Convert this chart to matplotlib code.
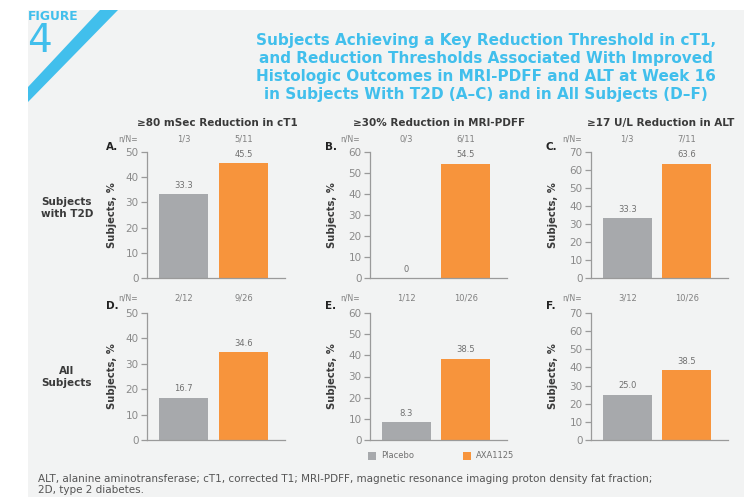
import matplotlib.pyplot as plt
from matplotlib.patches import Polygon, Rectangle
from matplotlib import transforms

W, H = 756, 497

groups = ['Placebo', 'AXA1125']
placebo_pct = [33.3, 0, 33.3, 16.7, 8.3, 25.0]
axa_pct = [45.5, 54.5, 63.6, 34.6, 38.5, 38.5]
placebo_nn = ['1/3', '0/3', '1/3', '2/12', '1/12', '3/12']
axa_nn = ['5/11', '6/11', '7/11', '9/26', '10/26', '10/26']
y_max = [50, 60, 70, 50, 60, 70]
letters = ['A.', 'B.', 'C.', 'D.', 'E.', 'F.']
col_titles = ['\u226580 mSec Reduction in cT1', '\u226530% Reduction in MRI-PDFF',
              '\u226517 U/L Reduction in ALT']
row_titles = ['Subjects\nwith T2D', 'All\nSubjects']

gray = '#a7a9ac'
orange = '#f7943c'
blue = '#41bfec'
bg = '#f2f3f3'
tick_gray = '#8a8a8a'
dark = '#3a3a3a'

plt.rcParams['font.family'] = ['DejaVu Sans']


def fx(x):
    return x / W


def fy(y):
    return 1 - y / H


fig = plt.figure(figsize=(W / 100, H / 100), dpi=100)
fig.patch.set_facecolor('white')

# light panel and the blue stripe, kept behind the axes
fig.patches.append(Rectangle((fx(28), fy(497)), fx(744) - fx(28), fy(10) - fy(497),
                             transform=fig.transFigure, facecolor=bg, edgecolor='none', zorder=-2))
stripe = [(100, 10), (118, 10), (28, 102), (28, 87)]
fig.patches.append(Polygon([(fx(x), fy(y)) for x, y in stripe], closed=True,
                           transform=fig.transFigure, facecolor=blue, edgecolor='none', zorder=-1))

fig.text(fx(28), fy(16), 'FIGURE', color=blue, fontsize=8.8, fontweight='bold', va='center', ha='left')
fig.text(fx(27), fy(41), '4', color=blue, fontsize=28, va='center', ha='left')

title = ('Subjects Achieving a Key Reduction Threshold in cT1,\n'
         'and Reduction Thresholds Associated With Improved\n'
         'Histologic Outcomes in MRI-PDFF and ALT at Week 16\n'
         'in Subjects With T2D (A\u2013C) and in All Subjects (D\u2013F)')
fig.text(fx(486), fy(68), title, color=blue, fontsize=11, fontweight='bold',
         ha='center', va='center', linespacing=1.25)

lefts = [147, 370, 591]
rights = [285, 507, 728]
tops = [152, 313]
bottoms = [278, 440]
nn_y = [139, 298]
letter_y = [147, 306]
letter_x = [112, 331, 551]
nlabel_x = [128, 350, 572]
ylab_x = [112, 332, 553]

for i in range(6):
    r, c = divmod(i, 3)
    ax = fig.add_axes([fx(lefts[c]), fy(bottoms[r]), fx(rights[c]) - fx(lefts[c]),
                       fy(tops[r]) - fy(bottoms[r])])
    ax.set_facecolor('none')
    vals = [placebo_pct[i], axa_pct[i]]
    ax.bar([0, 1], vals, width=0.82, color=[gray, orange], zorder=2)
    ax.set_xlim(-0.61, 1.69)
    ax.set_ylim(0, y_max[i])
    ax.set_yticks(range(0, y_max[i] + 1, 10))
    ax.set_xticks([])
    for s in ['top', 'right']:
        ax.spines[s].set_visible(False)
    for s in ['left', 'bottom']:
        ax.spines[s].set_color('#9a9a9a')
        ax.spines[s].set_linewidth(0.9)
    ax.tick_params(axis='y', colors='#9a9a9a', labelcolor=tick_gray, labelsize=7.5,
                   length=4, width=0.9, pad=2)
    for x, v in zip([0, 1], vals):
        ax.annotate('0' if v == 0 else f'{v:.1f}', (x, v), xytext=(0, 3),
                    textcoords='offset points', ha='center', va='bottom',
                    fontsize=6, color='#707070')
    ax.text(fx(ylab_x[c]), (fy(tops[r]) + fy(bottoms[r])) / 2, 'Subjects, %',
            transform=fig.transFigure, rotation=90, ha='center', va='center',
            fontsize=7.2, fontweight='bold', color=dark)

    tr = transforms.blended_transform_factory(ax.transData, fig.transFigure)
    for x, t in zip([0, 1], [placebo_nn[i], axa_nn[i]]):
        ax.text(x, fy(nn_y[r]), t, transform=tr, ha='center', va='center',
                fontsize=6, color='#808080')
    fig.text(fx(nlabel_x[c]), fy(nn_y[r]), 'n/N=', ha='center', va='center',
             fontsize=5.5, color='#808080')
    fig.text(fx(letter_x[c]), fy(letter_y[r]), letters[i], ha='center', va='center',
             fontsize=7.5, fontweight='bold', color='#222222')

for c in range(3):
    fig.text(fx((lefts[c] + rights[c]) / 2 + 1), fy(123), col_titles[c], ha='center',
             va='center', fontsize=7.5, fontweight='bold', color=dark)

fig.text(fx(67), fy(208), row_titles[0], ha='center', va='center', fontsize=7.5,
         fontweight='bold', color=dark, linespacing=1.3)
fig.text(fx(67), fy(377), row_titles[1], ha='center', va='center', fontsize=7.5,
         fontweight='bold', color=dark, linespacing=1.3)

# legend
for x0, col, name in [(368, gray, groups[0]), (463, orange, groups[1])]:
    fig.patches.append(Rectangle((fx(x0), fy(460)), fx(8) - fx(0), fy(452) - fy(460),
                                 transform=fig.transFigure, facecolor=col, edgecolor='none'))
    fig.text(fx(x0 + 13), fy(456), name, ha='left', va='center', fontsize=6, color='#707070')

fig.text(fx(38), fy(479), 'ALT, alanine aminotransferase; cT1, corrected T1; MRI-PDFF, magnetic '
         'resonance imaging proton density fat fraction;', ha='left', va='center',
         fontsize=7.5, color='#555555')
fig.text(fx(38), fy(490), '2D, type 2 diabetes.', ha='left', va='center',
         fontsize=7.5, color='#555555')

fig.savefig('out.png', dpi=100)
